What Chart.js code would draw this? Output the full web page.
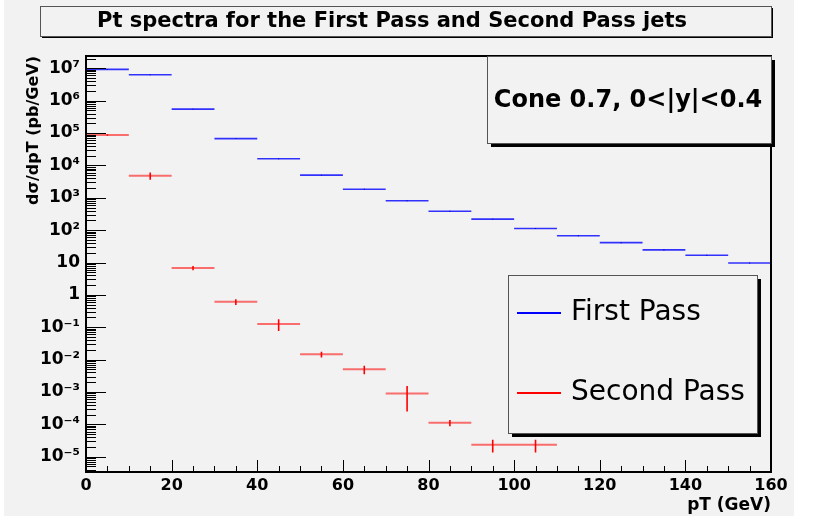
<!DOCTYPE html>
<html>
<head>
<meta charset="utf-8">
<script src="https://cdn.jsdelivr.net/npm/chart.js@4.4.1/dist/chart.umd.min.js"></script>
<style>
body { margin: 0; background: #ffffff; }
#wrap { width: 814px; height: 520px; }
</style>
</head>
<body>
<div id="wrap"><canvas id="spectra"></canvas></div>
<script>
// bin centres in GeV, every bin is 10 GeV wide
const binCenters = [5, 15, 25, 35, 45, 55, 65, 75, 85, 95, 105, 115, 125, 135, 145, 155];
const binHalfWidth = 5;

// d(sigma)/dpT in pb/GeV
const firstPass = [9.3e6, 6.3e6, 5.5e5, 6.7e4, 1.6e4, 5.0e3, 1.84e3, 810, 385, 219, 112, 67, 41, 24.5, 16.8, 9.7];
const firstPassErr = [2e5, 1.5e5, 1.5e4, 2e3, 500, 150, 60, 25, 12, 7, 3.5, 2.2, 1.3, 0.8, 0.6, 0.35];
const secondPass = [8.7e4, 4.8e3, 6.8, 0.61, 0.126, 0.0146, 5.0e-3, 8.9e-4, 1.12e-4, 2.34e-5, 2.34e-5];
const secondPassErr = [4e3, 1.2e3, 1.0, 0.12, 0.05, 0.003, 1.5e-3, 6.4e-4, 2.4e-5, 1.0e-5, 1.0e-5];

const xTickLabels = [0, 20, 40, 60, 80, 100, 120, 140, 160];
const yMajorTicks = [1e-5, 1e-4, 1e-3, 1e-2, 1e-1, 1, 10, 1e2, 1e3, 1e4, 1e5, 1e6, 1e7];
const yTickLabels = ['10⁻⁵', '10⁻⁴', '10⁻³', '10⁻²', '10⁻¹', '1', '10', '10²', '10³', '10⁴', '10⁵', '10⁶', '10⁷'];

const seriesNames = ['First Pass', 'Second Pass'];
const seriesColors = ['#0000ff', '#ff0000'];
const bgGray = '#f2f2f2';

function binSteps(values) {
    let pts = [];
    for (let i = 0; i < values.length; i++) {
        pts.push({x: binCenters[i] - binHalfWidth, y: values[i]});
        pts.push({x: binCenters[i] + binHalfWidth, y: values[i]});
        pts.push({x: binCenters[i] + binHalfWidth, y: null});
    }
    return pts;
}

function errorBars(values, errs) {
    let pts = [];
    for (let i = 0; i < values.length; i++) {
        pts.push({x: binCenters[i], y: values[i] - errs[i]});
        pts.push({x: binCenters[i], y: values[i] + errs[i]});
        pts.push({x: binCenters[i], y: null});
    }
    return pts;
}

function isDecade(v) {
    return yMajorTicks.findIndex(m => Math.abs(m - v) / m < 1e-6);
}

function shadowBox(ctx, x, y, w, h, sh) {
    ctx.fillStyle = '#000';
    ctx.fillRect(x + sh, y + sh, w, h);
    ctx.fillStyle = bgGray;
    ctx.fillRect(x, y, w, h);
    ctx.strokeStyle = '#555';
    ctx.lineWidth = 1;
    ctx.strokeRect(x + 0.5, y + 0.5, w, h);
}

const rootStyle = {
    id: 'rootStyle',
    beforeDraw(chart) {
        let ctx = chart.ctx;
        ctx.save();
        ctx.fillStyle = '#ffffff';
        ctx.fillRect(0, 0, chart.width, chart.height);
        ctx.fillStyle = bgGray;
        ctx.fillRect(4, 0, 790, 516);
        // title box
        shadowBox(ctx, 40, 6, 731, 30, 2);
        ctx.fillStyle = '#000';
        ctx.font = 'bold 21px "DejaVu Sans"';
        ctx.textAlign = 'center';
        ctx.textBaseline = 'middle';
        ctx.fillText('Pt spectra for the First Pass and Second Pass jets', 392, 22);
        ctx.restore();
    },
    afterDraw(chart) {
        let ctx = chart.ctx;
        let a = chart.chartArea;
        let xs = chart.scales.x;
        let ys = chart.scales.y;
        ctx.save();
        ctx.strokeStyle = '#000';
        ctx.lineWidth = 1;
        ctx.beginPath();
        ys.ticks.forEach(t => {
            let y = Math.round(ys.getPixelForValue(t.value)) + 0.5;
            let len = isDecade(t.value) >= 0 ? 20 : 10;
            ctx.moveTo(a.left, y);
            ctx.lineTo(a.left + len, y);
        });
        xs.ticks.forEach(t => {
            let x = Math.round(xs.getPixelForValue(t.value)) + 0.5;
            let len = t.value % 20 === 0 ? 12 : 6;
            ctx.moveTo(x, a.bottom);
            ctx.lineTo(x, a.bottom - len);
        });
        ctx.stroke();
        ctx.lineWidth = 2;
        ctx.strokeRect(a.left, a.top, a.right - a.left, a.bottom - a.top);

        // cone label box
        shadowBox(ctx, 487, 56, 284, 87, 4);
        ctx.fillStyle = '#000';
        ctx.font = 'bold 24px "DejaVu Sans"';
        ctx.textAlign = 'center';
        ctx.textBaseline = 'middle';
        ctx.fillText('Cone 0.7, 0<|y|<0.4', 628, 101);

        // legend
        shadowBox(ctx, 508, 275, 249, 158, 4);
        ctx.font = '28px "DejaVu Sans"';
        ctx.textAlign = 'left';
        seriesNames.forEach((name, i) => {
            let y = 313 + i * 80;
            ctx.fillStyle = seriesColors[i];
            ctx.fillRect(517, y - 1, 44, 2);
            ctx.fillStyle = '#000';
            ctx.fillText(name, 571, y);
        });
        ctx.restore();
    }
};

new Chart(document.getElementById('spectra'), {
    type: 'scatter',
    data: {
        datasets: [
            {
                label: seriesNames[0],
                data: binSteps(firstPass),
                showLine: true,
                borderColor: 'rgba(0,0,255,0.8)',
                borderWidth: 1.6,
                pointRadius: 0
            },
            {
                label: 'First Pass errors',
                data: errorBars(firstPass, firstPassErr),
                showLine: true,
                borderColor: 'rgb(0,0,140)',
                borderWidth: 1.2,
                pointRadius: 0
            },
            {
                label: seriesNames[1],
                data: binSteps(secondPass),
                showLine: true,
                borderColor: 'rgba(255,0,0,0.55)',
                borderWidth: 2,
                pointRadius: 0
            },
            {
                label: 'Second Pass errors',
                data: errorBars(secondPass, secondPassErr),
                showLine: true,
                borderColor: seriesColors[1],
                borderWidth: 1.6,
                pointRadius: 0
            }
        ]
    },
    options: {
        responsive: true,
        maintainAspectRatio: false,
        animation: false,
        spanGaps: false,
        layout: { padding: { top: 56, right: 43, left: 0, bottom: 0 } },
        plugins: {
            legend: { display: false },
            title: { display: false },
            tooltip: { enabled: false }
        },
        scales: {
            x: {
                type: 'linear',
                min: 0,
                max: 160,
                grid: { display: false, drawTicks: false },
                border: { display: false },
                ticks: {
                    stepSize: 5,
                    autoSkip: false,
                    maxRotation: 0,
                    padding: 4,
                    color: '#000',
                    font: { family: 'DejaVu Sans', size: 16, weight: 'bold' },
                    callback: v => xTickLabels.includes(v) ? String(v) : ''
                },
                title: {
                    display: true,
                    text: 'pT (GeV)',
                    align: 'end',
                    color: '#000',
                    font: { family: 'DejaVu Sans', size: 17, weight: 'bold' },
                    padding: { top: 0, bottom: 4 }
                },
                afterFit: s => { s.height = 48; }
            },
            y: {
                type: 'logarithmic',
                min: 3.37e-6,
                max: 2.4e7,
                grid: { display: false, drawTicks: false },
                border: { display: false },
                afterBuildTicks: s => {
                    let ticks = [];
                    for (let e = -6; e <= 7; e++) {
                        for (let m = 1; m <= 9; m++) {
                            let v = m * Math.pow(10, e);
                            if (v >= s.min && v <= s.max) ticks.push({value: v});
                        }
                    }
                    s.ticks = ticks;
                },
                ticks: {
                    autoSkip: false,
                    padding: 6,
                    color: '#000',
                    font: { family: 'DejaVu Sans', size: 17, weight: 'bold' },
                    callback: v => {
                        let i = isDecade(v);
                        return i >= 0 ? yTickLabels[i] : '';
                    }
                },
                title: {
                    display: true,
                    text: 'dσ/dpT (pb/GeV)',
                    align: 'end',
                    color: '#000',
                    font: { family: 'DejaVu Sans', size: 16, weight: 'bold' },
                    padding: { top: 24, bottom: 0 }
                },
                afterFit: s => { s.width = 86; }
            }
        }
    },
    plugins: [rootStyle]
});
</script>
</body>
</html>
